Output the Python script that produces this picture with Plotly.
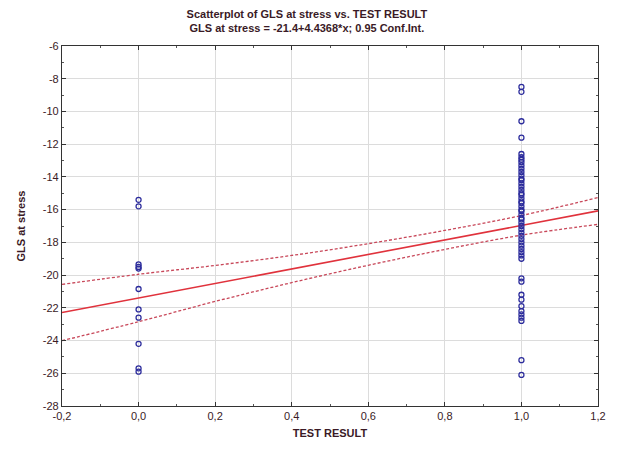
import plotly.graph_objects as go

# ---- data ----
x_neg = [0.0] * 11
y_neg = [-15.4, -15.8, -19.35, -19.5, -19.6, -20.85, -22.1, -22.6, -24.2, -25.7, -25.9]

y_pos = [-8.5, -8.8, -10.6, -11.6,
         -12.6, -12.8, -12.95, -13.1, -13.3, -13.5, -13.7, -13.9, -14.1, -14.2,
         -14.4, -14.6, -14.8, -15.0, -15.1, -15.3, -15.5, -15.6, -15.8, -16.0,
         -16.1, -16.3, -16.5, -16.6, -16.8, -17.0, -17.2, -17.4, -17.6, -17.8,
         -18.0, -18.2, -18.4, -18.6, -18.8, -19.0,
         -20.2, -20.4, -21.2, -21.5, -21.9, -22.2, -22.4, -22.6, -22.8, -25.2, -26.1]
x_pos = [1.0] * len(y_pos)

intercept = -21.4
slope = 4.4368

band_x = [-0.2, 0.0, 0.2, 0.4, 0.6, 0.8, 1.0, 1.2]
band_upper = [-20.57, -19.95, -19.41, -18.80, -18.08, -17.27, -16.36, -15.26]
band_lower = [-24.01, -22.85, -21.61, -20.46, -19.40, -18.43, -17.56, -16.90]

x_tickvals = [-0.2, 0.0, 0.2, 0.4, 0.6, 0.8, 1.0, 1.2]
x_ticktext = ["-0,2", "0,0", "0,2", "0,4", "0,6", "0,8", "1,0", "1,2"]
y_tickvals = [-28, -26, -24, -22, -20, -18, -16, -14, -12, -10, -8, -6]
y_ticktext = ["-28", "-26", "-24", "-22", "-20", "-18", "-16", "-14", "-12", "-10", "-8", "-6"]

title_text = ("Scatterplot of GLS at stress vs. TEST RESULT<br>"
              "GLS at stress = -21.4+4.4368*x; 0.95 Conf.Int.")
x_title = "TEST RESULT"
y_title = "GLS at stress"

# ---- figure ----
txt = "#3a1a26"
fit_y = [intercept + slope * v for v in band_x]

fig = go.Figure()
fig.add_trace(go.Scatter(x=band_x, y=band_upper, mode="lines", line_shape="spline",
                         line=dict(color="#c8485a", width=1.3, dash="3px,2px"),
                         hoverinfo="skip"))
fig.add_trace(go.Scatter(x=band_x, y=band_lower, mode="lines", line_shape="spline",
                         line=dict(color="#c8485a", width=1.3, dash="3px,2px"),
                         hoverinfo="skip"))
fig.add_trace(go.Scatter(x=band_x, y=fit_y, mode="lines",
                         line=dict(color="#e0323c", width=1.6)))
fig.add_trace(go.Scatter(x=x_neg + x_pos, y=y_neg + y_pos, mode="markers",
                         marker=dict(symbol="circle-open", size=5,
                                     color="#2c2c9c", line=dict(width=1.3))))

axis_common = dict(
    showline=True, linecolor="#333333", linewidth=1.2, mirror="ticks",
    ticks="inside", ticklen=4, tickcolor="#333333",
    showgrid=True, gridcolor="#dcdcdc", gridwidth=1, zeroline=False,
    tickfont=dict(family="Liberation Sans", size=11, color=txt),
)

fig.update_layout(
    width=610, height=442,
    margin=dict(l=54, r=14, t=38, b=44),
    paper_bgcolor="white", plot_bgcolor="white",
    showlegend=False,
    title=dict(text=title_text, x=0.49, xanchor="center",
               yref="container", y=0.978, yanchor="middle",
               font=dict(family="Liberation Sans", size=11, color=txt, weight="bold")),
    xaxis=dict(range=[-0.2, 1.2], tickvals=x_tickvals, ticktext=x_ticktext,
               minor=dict(dtick=0.1, ticks="inside", ticklen=2, tickcolor="#555555",
                          showgrid=False),
               title=dict(text=x_title, standoff=8,
                          font=dict(family="Liberation Sans", size=11, color=txt,
                                    weight="bold")),
               **axis_common),
    yaxis=dict(range=[-28, -6], tickvals=y_tickvals, ticktext=y_ticktext,
               minor=dict(dtick=1, ticks="inside", ticklen=2, tickcolor="#555555",
                          showgrid=False),
               title=dict(text=y_title, standoff=14,
                          font=dict(family="Liberation Sans", size=11, color=txt,
                                    weight="bold")),
               **axis_common),
)

fig.write_html("out.html")
